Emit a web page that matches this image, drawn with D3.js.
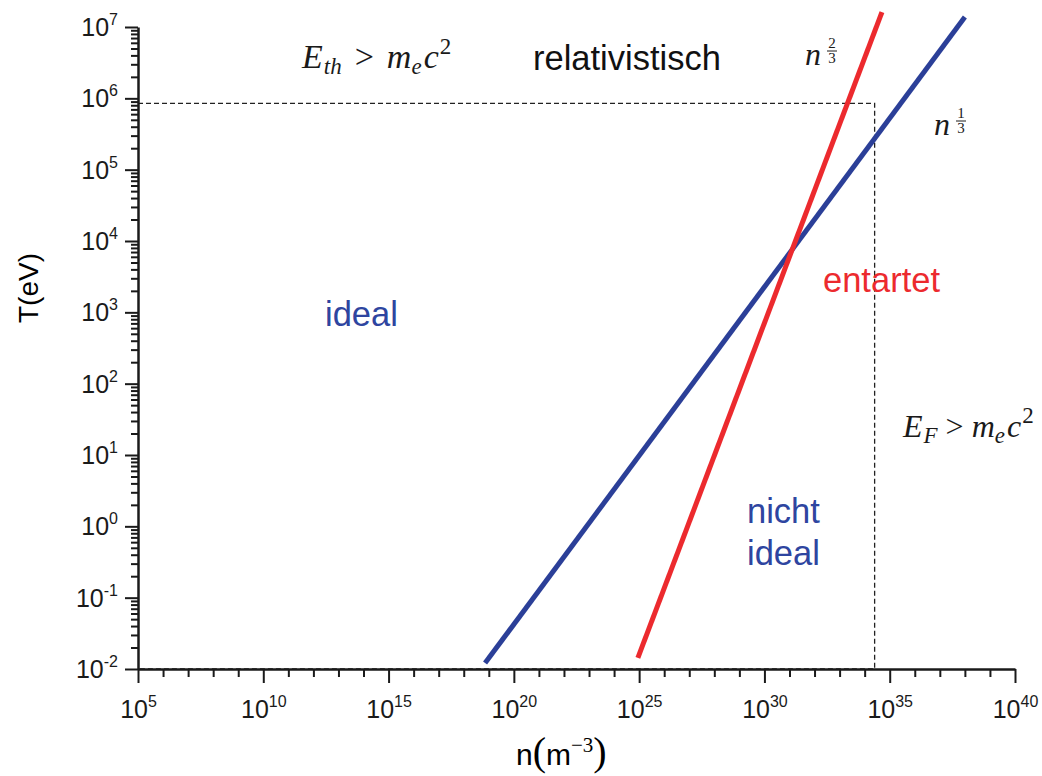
<!DOCTYPE html>
<meta charset="utf-8" />
<style>
  body {
    margin: 0;
    background: white;
  }

  .axis path,
  .axis line {
    stroke: #1a1a1a;
  }

  .axis path {
    stroke-width: 2.5px;
  }

  .axis line {
    stroke-width: 2px;
  }

  .axis text {
    font-family: "Liberation Sans", Arial, sans-serif;
    font-size: 25px;
    fill: #1a1a1a;
  }

  .region {
    font-family: "Liberation Sans", Arial, sans-serif;
    font-size: 34.5px;
  }

  .math {
    font-family: "Liberation Serif", "Times New Roman", serif;
    fill: #1a1a1a;
  }

  .it {
    font-style: italic;
  }

  .boundary {
    fill: none;
    stroke: #222;
    stroke-width: 1.3px;
    stroke-dasharray: 5 3;
  }
</style>

<body>
  <svg id="chart" width="1042" height="776"></svg>
</body>
<script src="https://d3js.org/d3.v7.min.js"></script>
<script>
  // axis extents (density in m^-3, temperature in eV)
  const nDomain = [1e5, 1e40];
  const tDomain = [1e-2, 1e7];

  // major tick exponents
  const xMajorExp = [5, 10, 15, 20, 25, 30, 35, 40];
  const yMajorExp = [-2, -1, 0, 1, 2, 3, 4, 5, 6, 7];

  // blue line (n^1/3) and red line (n^2/3), end points
  const blueN = [7.1e18, 1.0e38];
  const blueT = [0.0121, 1.38e7];
  const redN = [8.9e24, 4.9e34];
  const redT = [0.0143, 1.62e7];

  // relativistic limits (dashed boundary)
  const relT = 8.5e5;
  const relN = 2.5e34;

  // region labels
  const regionText = ["relativistisch", "ideal", "entartet", "nicht", "ideal"];

  const svg = d3.select("#chart");

  const margin = { top: 27, right: 27, bottom: 107, left: 138 };
  const width = svg.attr("width") - margin.left - margin.right;
  const height = svg.attr("height") - margin.top - margin.bottom;

  const g = svg
    .append("g")
    .attr("transform", "translate(" + margin.left + "," + margin.top + ")");

  const x = d3.scaleLog().domain(nDomain).range([0, width]);
  const y = d3.scaleLog().domain(tDomain).range([height, 0]);

  // dashed boundary of the relativistic region
  const boundary = [
    [nDomain[0], relT],
    [relN, relT],
    [relN, tDomain[0]],
    [nDomain[0], tDomain[0]],
  ];
  g.append("path")
    .attr("class", "boundary")
    .attr(
      "d",
      d3
        .line()
        .x((d) => x(d[0]))
        .y((d) => y(d[1]))(boundary)
    );

  // minor ticks
  const yMinor = [];
  for (let e = -2; e < 7; e++) {
    for (let k = 2; k <= 9; k++) yMinor.push(k * Math.pow(10, e));
  }
  const xMinor = [];
  for (let e = 5; e <= 40; e++) {
    if (e % 5 !== 0) xMinor.push(Math.pow(10, e));
  }

  g.append("g")
    .attr("class", "axis")
    .call(d3.axisLeft(y).tickValues(yMinor).tickSize(7).tickSizeOuter(0).tickFormat(""))
    .select(".domain")
    .remove();

  g.append("g")
    .attr("class", "axis")
    .attr("transform", "translate(0," + height + ")")
    .call(d3.axisBottom(x).tickValues(xMinor).tickSize(8).tickSizeOuter(0).tickFormat(""))
    .select(".domain")
    .remove();

  // power-of-ten label with superscript
  function powLabel(sel) {
    sel.each(function (d) {
      const t = d3.select(this);
      const e = Math.round(Math.log10(d));
      t.text(null);
      t.append("tspan").text("10");
      t.append("tspan").attr("dy", -11).style("font-size", "16px").text(e);
    });
  }

  // major y axis
  const yAxis = g
    .append("g")
    .attr("class", "axis")
    .call(
      d3
        .axisLeft(y)
        .tickValues(yMajorExp.map((e) => Math.pow(10, e)))
        .tickSize(13)
        .tickPadding(7)
        .tickSizeOuter(0)
    );
  yAxis.selectAll(".tick text").attr("dy", "0.34em").call(powLabel);

  // major x axis
  const xAxis = g
    .append("g")
    .attr("class", "axis")
    .attr("transform", "translate(0," + height + ")")
    .call(
      d3
        .axisBottom(x)
        .tickValues(xMajorExp.map((e) => Math.pow(10, e)))
        .tickSize(14)
        .tickPadding(17)
        .tickSizeOuter(0)
    );
  xAxis.selectAll(".tick text").call(powLabel);

  // the two lines
  const line = d3
    .line()
    .x((d) => x(d[0]))
    .y((d) => y(d[1]));

  g.append("path")
    .attr("d", line(d3.zip(blueN, blueT)))
    .attr("fill", "none")
    .attr("stroke", "#2b3f98")
    .attr("stroke-width", 5);

  g.append("path")
    .attr("d", line(d3.zip(redN, redT)))
    .attr("fill", "none")
    .attr("stroke", "#ec2a2e")
    .attr("stroke-width", 5);

  // axis titles
  svg
    .append("text")
    .attr("class", "region")
    .style("font-size", "28px")
    .attr("text-anchor", "middle")
    .attr("transform", "translate(38,288) rotate(-90)")
    .text("T(eV)");

  const xt = svg
    .append("text")
    .attr("class", "region")
    .style("font-size", "30px")
    .attr("x", 516)
    .attr("y", 765);
  xt.append("tspan").text("n");
  xt.append("tspan").style("font-size", "40px").style("font-family", "Liberation Serif").text("(");
  xt.append("tspan").text("m");
  xt.append("tspan")
    .attr("dy", -13)
    .style("font-size", "21px")
    .style("font-family", "Liberation Serif")
    .text("\u22123");
  xt.append("tspan").attr("dy", 13).style("font-size", "40px").style("font-family", "Liberation Serif").text(")");

  // region labels
  const regions = [
    { x: 533, y: 70, c: "#111" },
    { x: 325, y: 326, c: "#2e45a0" },
    { x: 823, y: 292, c: "#ec2a2e" },
    { x: 747, y: 523, c: "#2e45a0" },
    { x: 747, y: 565, c: "#2e45a0" },
  ];
  svg
    .selectAll(".region-label")
    .data(regionText)
    .enter()
    .append("text")
    .attr("class", "region")
    .attr("x", (d, i) => regions[i].x)
    .attr("y", (d, i) => regions[i].y)
    .attr("fill", (d, i) => regions[i].c)
    .text((d) => d);

  // E > m_e c^2 style labels
  function energyLabel(px, py, sub, size, gap) {
    const t = svg
      .append("text")
      .attr("class", "math")
      .style("font-size", size + "px")
      .attr("x", px)
      .attr("y", py);
    t.append("tspan").attr("class", "it").text("E");
    t.append("tspan").attr("class", "it").attr("dx", 1).attr("dy", 6).style("font-size", "23px").text(sub);
    t.append("tspan").attr("dx", gap).attr("dy", -6).text(">");
    t.append("tspan").attr("class", "it").attr("dx", gap).text("m");
    t.append("tspan").attr("class", "it").attr("dy", 6).style("font-size", "23px").text("e");
    t.append("tspan").attr("class", "it").attr("dx", 2).attr("dy", -6).text("c");
    t.append("tspan").attr("dx", 1).attr("dy", -14).style("font-size", "23px").text("2");
  }
  energyLabel(302, 68, "th", 34, 13);
  energyLabel(903, 437, "F", 32, 8);

  // n^(a/b) labels
  function powerLabel(px, py, num, den) {
    svg
      .append("text")
      .attr("class", "math it")
      .style("font-size", "32px")
      .attr("x", px)
      .attr("y", py)
      .text("n");
    const fx = px + 27;
    svg
      .append("text")
      .attr("class", "math")
      .style("font-size", "15px")
      .attr("text-anchor", "middle")
      .attr("x", fx)
      .attr("y", py - 17)
      .text(num);
    svg
      .append("line")
      .attr("x1", fx - 5)
      .attr("x2", fx + 5)
      .attr("y1", py - 14)
      .attr("y2", py - 14)
      .attr("stroke", "#1a1a1a")
      .attr("stroke-width", 1);
    svg
      .append("text")
      .attr("class", "math")
      .style("font-size", "15px")
      .attr("text-anchor", "middle")
      .attr("x", fx)
      .attr("y", py - 2)
      .text(den);
  }
  powerLabel(805, 65, "2", "3");
  powerLabel(934, 135, "1", "3");
</script>
